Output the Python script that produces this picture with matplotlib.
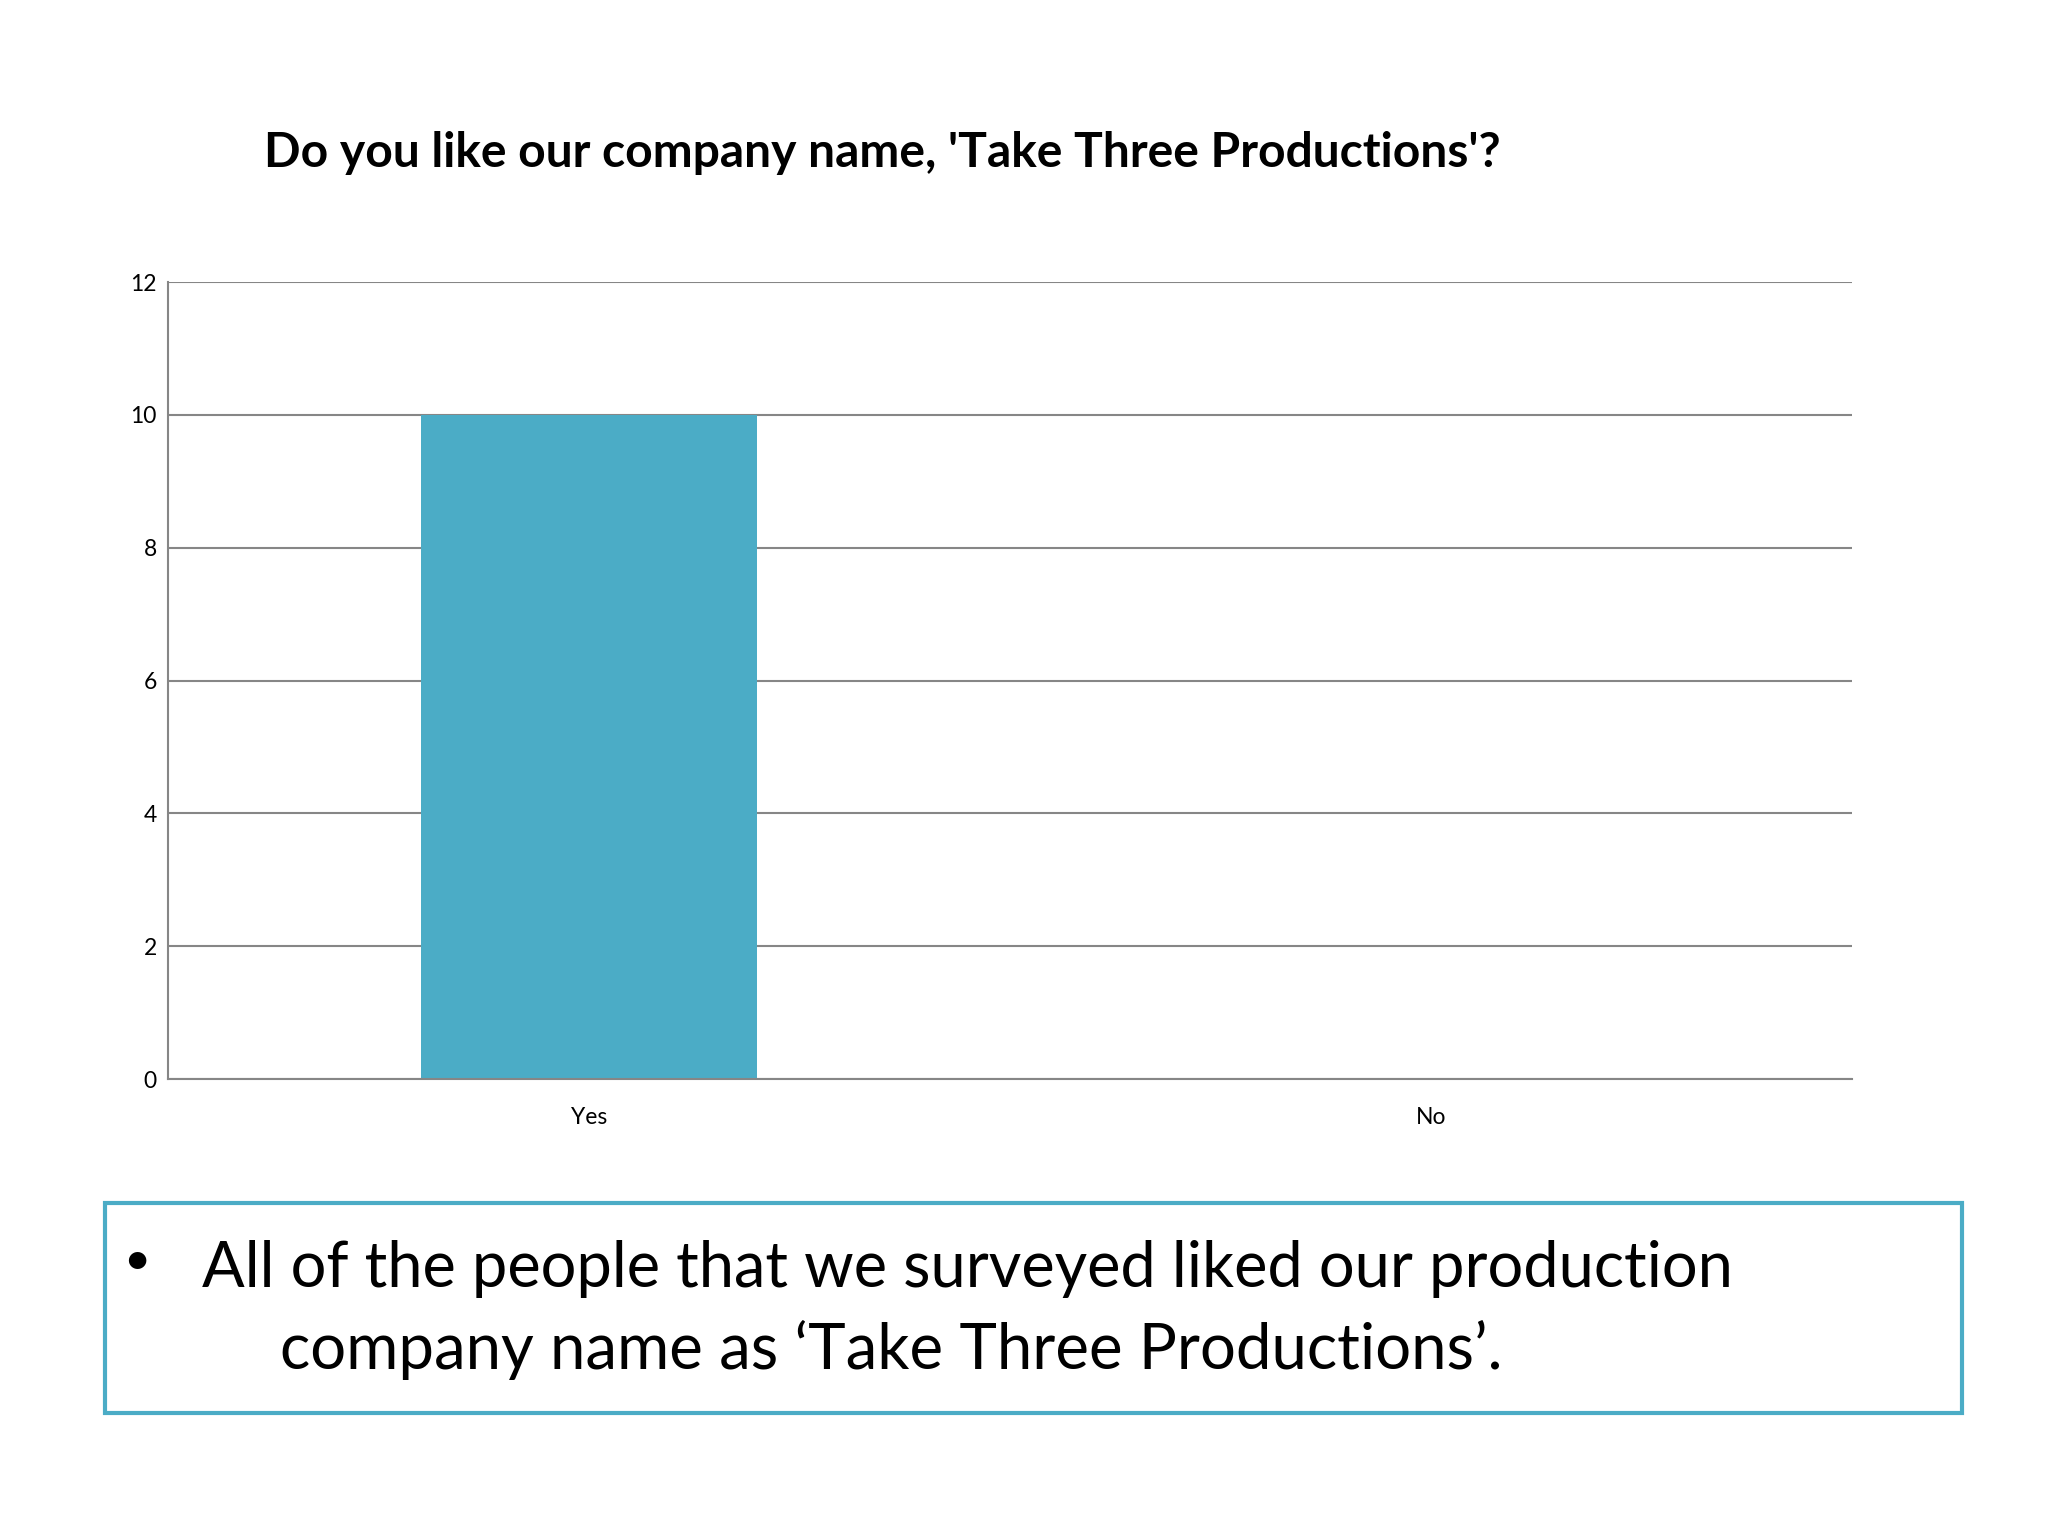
import matplotlib
matplotlib.use('Agg')
import matplotlib.pyplot as plt
from matplotlib.patches import Rectangle

categories = ['Yes', 'No']
counts = [10, 0]
y_ticks = [0, 2, 4, 6, 8, 10, 12]

title = "Do you like our company name, 'Take Three Productions'?"
bullet_lines = ['All of the people that we surveyed liked our production',
                'company name as \u2018Take Three Productions\u2019.']

teal = '#4BACC6'
grid_gray = '#868686'
font = 'Lato'

W, H = 2048, 1536
fig = plt.figure(figsize=(W / 100, H / 100), dpi=100)
fig.patch.set_facecolor('white')

ax = fig.add_axes([168 / W, 1 - 1079 / H, (1852 - 168) / W, (1079 - 282) / H])
ax.bar(range(len(categories)), counts, width=0.4, color=teal, zorder=3)
ax.set_xlim(-0.5, len(categories) - 0.5)
ax.set_ylim(0, 12)
ax.set_yticks(y_ticks)
ax.set_xticks(range(len(categories)))
ax.set_xticklabels(categories, fontfamily=font, fontsize=16.5)
ax.set_yticklabels([str(t) for t in y_ticks], fontfamily=font, fontsize=16.5)
ax.tick_params(axis='both', length=0)
ax.tick_params(axis='y', pad=8)
ax.tick_params(axis='x', pad=20)
ax.yaxis.grid(True, color=grid_gray, linewidth=1.5, zorder=1)
for s in ['top', 'right']:
    ax.spines[s].set_visible(False)
for s in ['left', 'bottom']:
    ax.spines[s].set_color(grid_gray)
    ax.spines[s].set_linewidth(1.5)
    ax.spines[s].set_zorder(4)

renderer = fig.canvas.get_renderer()


def fit_text(x, y, s, target_px, **kw):
    t = fig.text(x, y, s, fontsize=40, **kw)
    w = t.get_window_extent(renderer).width
    t.set_fontsize(40 * target_px / w)
    return t


fit_text(264 / W, 1 - 167 / H, title, 1502 - 264, fontfamily=font,
         fontweight='bold', ha='left', va='baseline')

box = Rectangle((105 / W, 1 - 1413 / H), (1962 - 105) / W, (1413 - 1203) / H,
                transform=fig.transFigure, fill=False, edgecolor=teal,
                linewidth=3)
fig.patches.append(box)

fig.text(137 / W, 1 - 1274 / H, '\u2022', fontsize=34, fontfamily=font,
         ha='center', va='baseline')
fit_text(202 / W, 1 - 1287 / H, bullet_lines[0], 1733 - 202,
         fontfamily=font, ha='left', va='baseline')
fit_text(280 / W, 1 - 1369 / H, bullet_lines[1], 1502 - 280,
         fontfamily=font, ha='left', va='baseline')

fig.savefig('out.png', dpi=100)
